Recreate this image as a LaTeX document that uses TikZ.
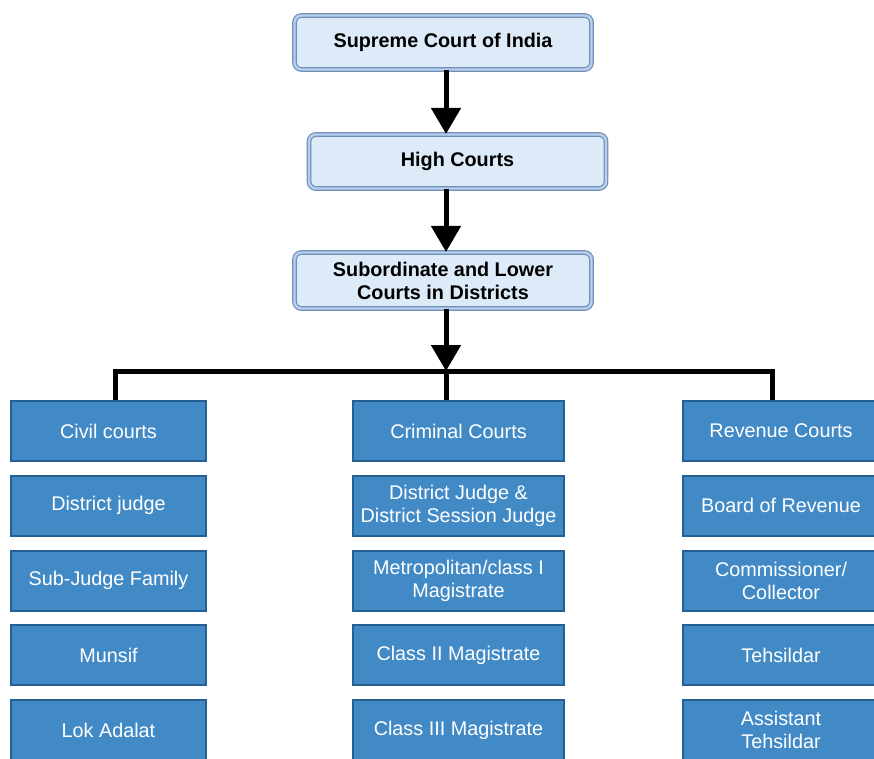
\documentclass[tikz,border=0pt]{standalone}
\usepackage{fontspec}
\setmainfont{Liberation Sans}
\usetikzlibrary{positioning,arrows.meta}

\definecolor{topfill}{RGB}{221,234,247}
\definecolor{topband}{RGB}{185,207,234}
\definecolor{topline}{RGB}{112,143,186}
\definecolor{lowfill}{RGB}{66,138,198}
\definecolor{lowline}{RGB}{36,96,148}

\tikzset{
  topbox/.style={draw=topline, line width=1.2pt, double=topband, double distance=2.4pt,
    rounded corners=7pt, fill=topfill, minimum width=297pt, minimum height=54pt,
    font=\bfseries\fontsize{19.8}{23}\selectfont, align=center, inner sep=0pt},
  lowbox/.style={draw=lowline, line width=2pt, fill=lowfill, text=white,
    minimum height=60pt, font=\fontsize{19.8}{23}\selectfont, align=center, inner sep=0pt},
  flow/.style={line width=5pt, -{Triangle[width=29pt,length=26pt]}},
  bar/.style={line width=5pt}
}

\begin{document}
\begin{tikzpicture}[x=1pt,y=-1pt]
    \useasboundingbox (0,0) rectangle (874,758);

    % Upper levels
    \node[topbox] (sc) at (443,42.5) {Supreme Court of India};
    \node[topbox] (hc) at (457.5,161.5) {High Courts};
    \node[topbox, minimum height=56pt] (sub) at (443,280.5) {Subordinate and Lower\\Courts in Districts};

    % Three columns of lower courts
    \foreach \txt [count=\i] in {Civil courts, District judge, Sub-Judge Family, Munsif, Lok Adalat} {
        \node[lowbox, minimum width=195pt] (civ\i) at (108.5,{431+74.75*(\i-1)}) {\txt};
    }
    \foreach \txt [count=\i] in {Criminal Courts, {District Judge \&\\District Session Judge},
        {Metropolitan/class I\\Magistrate}, Class II Magistrate, Class III Magistrate} {
        \node[lowbox, minimum width=211pt] (cri\i) at (458.5,{431+74.75*(\i-1)}) {\txt};
    }
    \foreach \txt [count=\i] in {Revenue Courts, Board of Revenue, {Commissioner/\\Collector},
        Tehsildar, {Assistant\\Tehsildar}} {
        \node[lowbox, minimum width=196pt] (rev\i) at (781,{431+74.75*(\i-1)}) {\txt};
    }

    % Arrows down the hierarchy
    \coordinate (axis) at (446,0);
    \coordinate (junc) at (446,371);
    \draw[flow] (sc.south -| axis) -- (hc.north -| axis);
    \draw[flow] (hc.south -| axis) -- (sub.north -| axis);
    \draw[flow] (sub.south -| axis) -- (junc);

    % Branch bar
    \draw[bar] ([xshift=6.5pt]civ1.north) |- (junc) -| ([xshift=-9pt]rev1.north);
    \draw[bar] (junc) -- (junc |- cri1.north);
\end{tikzpicture}
\end{document}
